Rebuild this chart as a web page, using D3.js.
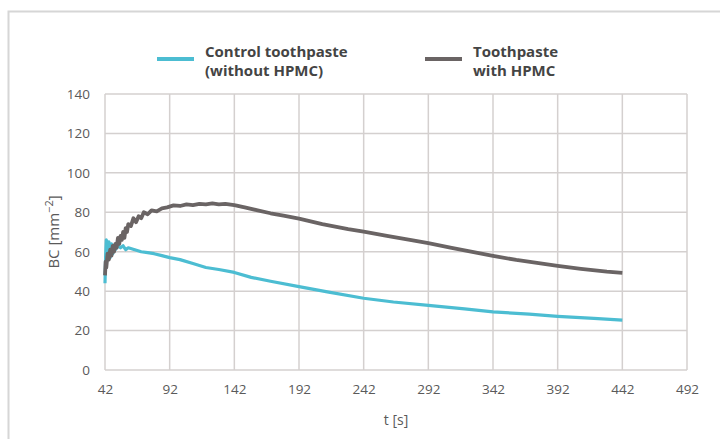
<!DOCTYPE html>
<html>
<head>
<meta charset="utf-8">
<script src="https://cdn.jsdelivr.net/npm/d3@7"></script>
<style>
  body { margin: 0; background: #fff; }
  svg { display: block; font-family: "Open Sans", sans-serif; }
</style>
</head>
<body>
<div id="chart"></div>
<script>
// control toothpaste (without HPMC)
const controlT = [42, 42.5, 43, 44, 45, 46, 47, 48, 49, 50, 52, 54, 56, 58, 60, 65, 70, 75, 80, 86, 92, 100, 110, 120, 130, 142, 155, 170, 192, 215, 242, 265, 292, 320, 342, 370, 392, 420, 442];
const controlBC = [44, 58, 66, 60, 65, 57, 64, 59, 63, 61, 63, 62, 63, 61, 62, 61, 60, 59.5, 59, 58, 57, 56, 54, 52, 51, 49.5, 47, 45, 42.3, 39.5, 36.4, 34.5, 32.8, 31, 29.5, 28.3, 27.2, 26.2, 25.3];

// toothpaste with HPMC
const hpmcT = [42, 42.5, 43, 44, 45, 46, 47, 48, 49, 50, 51, 52, 53, 54, 55, 56, 57, 58, 59, 60, 62, 64, 66, 68, 70, 72, 75, 78, 82, 86, 90, 95, 100, 105, 110, 115, 120, 125, 130, 135, 142, 150, 160, 170, 180, 192, 210, 230, 242, 260, 280, 292, 310, 330, 342, 360, 380, 392, 410, 430, 442];
const hpmcBC = [48, 55, 52, 59, 56, 61, 58, 63, 60, 64, 62, 67, 64, 68, 66, 70, 67, 72, 70, 74, 73, 77, 75, 78, 77, 80, 79, 81, 80.5, 82, 82.5, 83.5, 83.2, 84, 83.6, 84.3, 84, 84.5, 84, 84.3, 83.6, 82.5, 81, 79.5, 78.3, 76.8, 74, 71.5, 70.2, 68, 65.7, 64.3, 62, 59.4, 57.9, 55.8, 53.9, 52.8, 51.3, 49.9, 49.3];

const xTicks = [42, 92, 142, 192, 242, 292, 342, 392, 442, 492];
const yTicks = [0, 20, 40, 60, 80, 100, 120, 140];

const legendNames = [["Control toothpaste", "(without HPMC)"], ["Toothpaste", "with HPMC"]];
const colors = ["#4cbdd2", "#6a6464"];

const width = 720, height = 439;
const margin = { top: 94, right: 33, bottom: 69, left: 105 };

const svg = d3.select('#chart')
    .append('svg')
    .attr('width', width)
    .attr('height', height);

// outer frame
svg.append('rect')
    .attr('x', 8.5).attr('y', 11.5)
    .attr('width', 730).attr('height', 440)
    .attr('fill', 'none')
    .attr('stroke', '#d6d6d6')
    .attr('stroke-width', 2);

const x = d3.scaleLinear()
    .domain([42, 492])
    .range([margin.left, width - margin.right]);

const y = d3.scaleLinear()
    .domain([0, 140])
    .range([height - margin.bottom, margin.top]);

// grid
const grid = svg.append('g').attr('stroke', '#d4d0cf').attr('stroke-width', 1.5);
grid.selectAll('.hl')
    .data(yTicks)
    .enter()
    .append('line')
    .attr('x1', x(42)).attr('x2', x(492))
    .attr('y1', d => y(d)).attr('y2', d => y(d));
grid.selectAll('.vl')
    .data(xTicks)
    .enter()
    .append('line')
    .attr('y1', y(0)).attr('y2', y(140))
    .attr('x1', d => x(d)).attr('x2', d => x(d));

// axes (labels only)
const xAxis = svg.append('g')
    .attr('transform', `translate(0,${y(0)})`)
    .call(d3.axisBottom(x).tickValues(xTicks).tickSize(0).tickPadding(14));
const yAxis = svg.append('g')
    .attr('transform', `translate(${x(42)},0)`)
    .call(d3.axisLeft(y).tickValues(yTicks).tickSize(0).tickPadding(15));
[xAxis, yAxis].forEach(a => {
    a.select('.domain').remove();
    a.selectAll('text')
        .attr('fill', '#5a5a5a')
        .style('font-size', '13.5px')
        .style('font-family', '"Open Sans", sans-serif');
});

// lines
const line = d3.line()
    .x(d => x(d[0]))
    .y(d => y(d[1]));

svg.append('path')
    .datum(controlT.map((t, i) => [t, controlBC[i]]))
    .attr('d', line)
    .attr('fill', 'none')
    .attr('stroke', colors[0])
    .attr('stroke-width', 3.2)
    .attr('stroke-linejoin', 'round');

svg.append('path')
    .datum(hpmcT.map((t, i) => [t, hpmcBC[i]]))
    .attr('d', line)
    .attr('fill', 'none')
    .attr('stroke', colors[1])
    .attr('stroke-width', 3.8)
    .attr('stroke-linejoin', 'round');

// legend
const legendX = [157, 425];
legendNames.forEach((name, i) => {
    const g = svg.append('g').attr('transform', `translate(${legendX[i]},0)`);
    g.append('line')
        .attr('x1', 0).attr('x2', 37)
        .attr('y1', 59).attr('y2', 59)
        .attr('stroke', colors[i])
        .attr('stroke-width', 4);
    const txt = g.append('text')
        .attr('x', 48).attr('y', 57)
        .attr('fill', '#444')
        .style('font-size', '15px')
        .style('font-weight', 'bold');
    name.forEach((s, j) => {
        txt.append('tspan')
            .attr('x', 48)
            .attr('dy', j === 0 ? 0 : 18.5)
            .text(s);
    });
});

// axis titles
const yTitle = svg.append("text")
    .attr("transform", `translate(59,${(y(0) + y(140)) / 2}) rotate(-90)`)
    .style("text-anchor", "middle")
    .style("font-size", "15px")
    .attr("fill", "#5a5a5a");
yTitle.append("tspan").text("BC [mm");
yTitle.append("tspan").attr("dy", -6).style("font-size", "11px").text("−2");
yTitle.append("tspan").attr("dy", 6).text("]");

svg.append("text")
    .attr("x", (x(42) + x(492)) / 2)
    .attr("y", 425)
    .style("text-anchor", "middle")
    .style("font-size", "14px")
    .attr("fill", "#5a5a5a")
    .text("t [s]");
</script>
</body>
</html>
